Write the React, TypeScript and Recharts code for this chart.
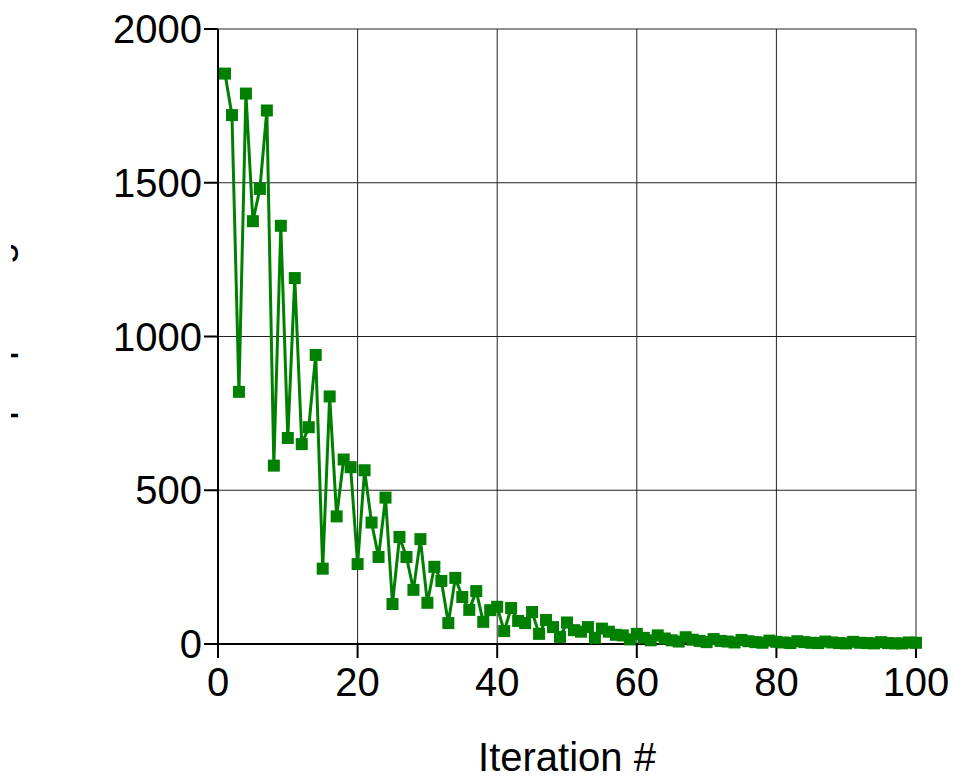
import { LineChart, Line, XAxis, YAxis, CartesianGrid } from 'recharts';

const costs = [
  1855, 1720, 820, 1790, 1375, 1480, 1735, 580, 1360, 670,
  1190, 650, 705, 940, 245, 805, 415, 600, 575, 260,
  565, 395, 283, 476, 130, 348, 283, 176, 341, 134,
  251, 205, 68, 215, 153, 111, 172, 72, 110, 121,
  42, 117, 75, 68, 104, 33, 78, 55, 23, 70,
  45, 40, 55, 20, 50, 40, 30, 28, 15, 33,
  20, 12, 28, 18, 12, 8, 22, 14, 10, 6,
  16, 10, 8, 5, 13, 9, 6, 4, 11, 7,
  5, 3, 9, 6, 4, 3, 8, 5, 3, 2,
  7, 4, 3, 2, 6, 3, 2, 2, 5, 4,
];
const xTicks = [0, 20, 40, 60, 80, 100];
const yTicks = [0, 500, 1000, 1500, 2000];

const data = costs.map((v, i) => ({ iter: i + 1, cost: v }));

const font = '"Liberation Sans", Arial, sans-serif';
const GREEN = '#008000';

// square marker
const Square = (props: any) => {
  const { cx, cy } = props;
  if (cx == null || cy == null) return null;
  return <rect x={cx - 6} y={cy - 6} width={12} height={12} fill={GREEN} />;
};

// y label is cropped in the reference, only the descenders show
const YLabel = () => (
  <g>
    <defs>
      <clipPath id="ylab-clip">
        <rect x={11} y={0} width={30} height={779} />
      </clipPath>
    </defs>
    <g clipPath="url(#ylab-clip)">
      <text transform="translate(10,361) rotate(-90)" textAnchor="middle" fontSize={40} fontFamily={font} fill="#000">
        Step Spacing
      </text>
    </g>
  </g>
);

export default function App() {
  return (
    <div style={{ position: 'absolute', left: 0, top: 0, width: 954, height: 779, background: '#fff' }}>
      <LineChart width={954} height={779} data={data} margin={{ top: 29, right: 38, left: 0, bottom: 0 }}>
        <CartesianGrid stroke="#222" strokeWidth={1} />
        <XAxis
          dataKey="iter" type="number" domain={[0, 100]} ticks={xTicks} interval={0}
          height={135} tickSize={14} tickMargin={10}
          axisLine={{ stroke: '#000', strokeWidth: 2 }} tickLine={{ stroke: '#000', strokeWidth: 2 }}
          tick={{ fill: '#000', fontSize: 40, fontFamily: font }}
          label={{ value: 'Iteration #', position: 'insideBottom', offset: 8, fill: '#000', fontSize: 40, fontFamily: font }}
        />
        <YAxis
          type="number" domain={[0, 2000]} ticks={yTicks} interval={0}
          width={218} tickSize={14} tickMargin={2}
          axisLine={{ stroke: '#000', strokeWidth: 2 }} tickLine={{ stroke: '#000', strokeWidth: 2 }}
          tick={{ fill: '#000', fontSize: 40, fontFamily: font }}
          label={{ content: () => <YLabel /> }}
        />
        <Line type="linear" dataKey="cost" stroke={GREEN} strokeWidth={3} dot={<Square />} activeDot={false} isAnimationActive={false} />
      </LineChart>
    </div>
  );
}
